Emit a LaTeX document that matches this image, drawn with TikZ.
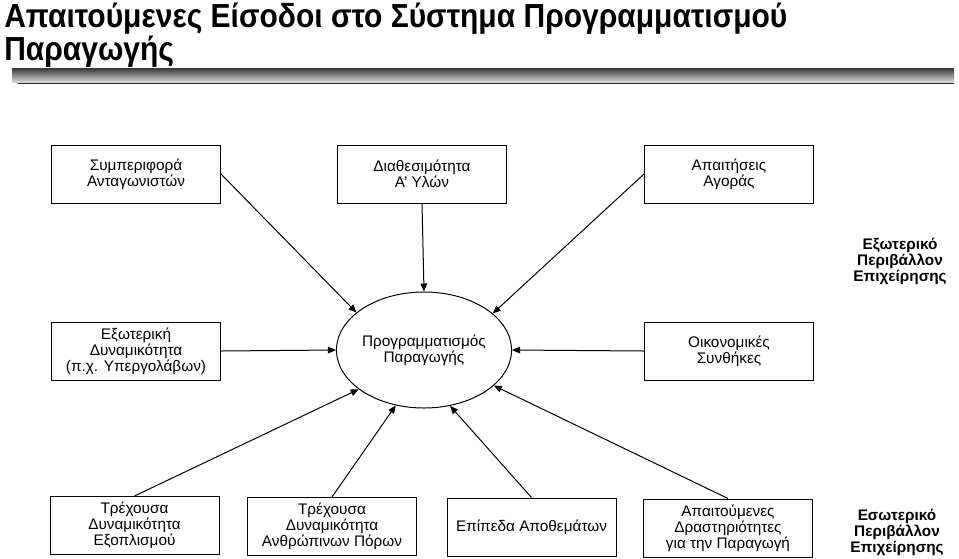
\documentclass[tikz,border=0pt]{standalone}
\usepackage{fontspec}
\setmainfont{Liberation Sans}
\newfontfamily\titlefont[FakeStretch=0.9]{Liberation Sans}
\usetikzlibrary{arrows.meta, shapes.geometric}
\definecolor{bardark}{RGB}{55,55,55}
\definecolor{barlight}{RGB}{215,215,215}
\definecolor{linered}{RGB}{120,0,0}

\begin{document}
\begin{tikzpicture}[x=0.75pt, y=-0.75pt,
    box/.style={draw, line width=0.75pt, minimum width=126.75pt, minimum height=43.5pt,
        align=center, inner sep=2pt, font=\fontsize{11.5}{12}\selectfont},
    envlabel/.style={align=center, inner sep=0pt, font=\bfseries\fontsize{11.5}{12}\selectfont},
    input/.style={-{Triangle[length=6pt, width=5pt]}, line width=0.75pt}]
    \useasboundingbox (0,0) rectangle (959,558);

    % Title and bar
    \node[anchor=north west, align=left, inner sep=0pt,
        font=\titlefont\bfseries\fontsize{25}{23}\selectfont] (title) at (4,3)
        {Απαιτούμενες Είσοδοι στο Σύστημα Προγραμματισμού\\Παραγωγής};
    \shade[top color=bardark, bottom color=barlight] (12,68) rectangle (954,82);
    \draw[linered] (18,83.5) -- (954,83.5);

    % External inputs
    \node[box] (comp) at (136,174) {Συμπεριφορά\\Ανταγωνιστών};
    \node[box] (avail) at (422,174) {Διαθεσιμότητα\\Α' Υλών};
    \node[box] (market) at (729,174) {Απαιτήσεις\\Αγοράς};
    \node[box] (extcap) at (136,351) {Εξωτερική\\Δυναμικότητα\\(π.χ. Υπεργολάβων)};
    \node[box] (econ) at (729,351) {Οικονομικές\\Συνθήκες};
    \node[envlabel] (extenv) at (900,261) {Εξωτερικό\\Περιβάλλον\\Επιχείρησης};

    % Planning
    \node[draw, ellipse, line width=0.75pt, minimum width=105pt, minimum height=87pt,
        inner sep=0pt, align=center, font=\fontsize{11.5}{12}\selectfont] (plan) at (424,350)
        {Προγραμματισμός\\Παραγωγής};

    % Internal inputs
    \node[box] (equip) at (134.5,525.5) {Τρέχουσα\\Δυναμικότητα\\Εξοπλισμού};
    \node[box] (staff) at (332,526.5) {Τρέχουσα\\Δυναμικότητα\\Ανθρώπινων Πόρων};
    \node[box] (stock) at (531.5,527) {Επίπεδα Αποθεμάτων};
    \node[box] (activ) at (728,528) {Απαιτούμενες\\Δραστηριότητες\\για την Παραγωγή};
    \node[envlabel] (intenv) at (897,532) {Εσωτερικό\\Περιβάλλον\\Επιχείρησης};

    % Arrows into the plan
    \foreach \src/\ang in {comp.east/151, avail.south/90, market.west/28, extcap.east/180,
        econ.west/0, equip.north/211, staff.north/243, stock.north/295, activ.north/333}
        \draw[input] (\src) -- (plan.\ang);
\end{tikzpicture}
\end{document}
